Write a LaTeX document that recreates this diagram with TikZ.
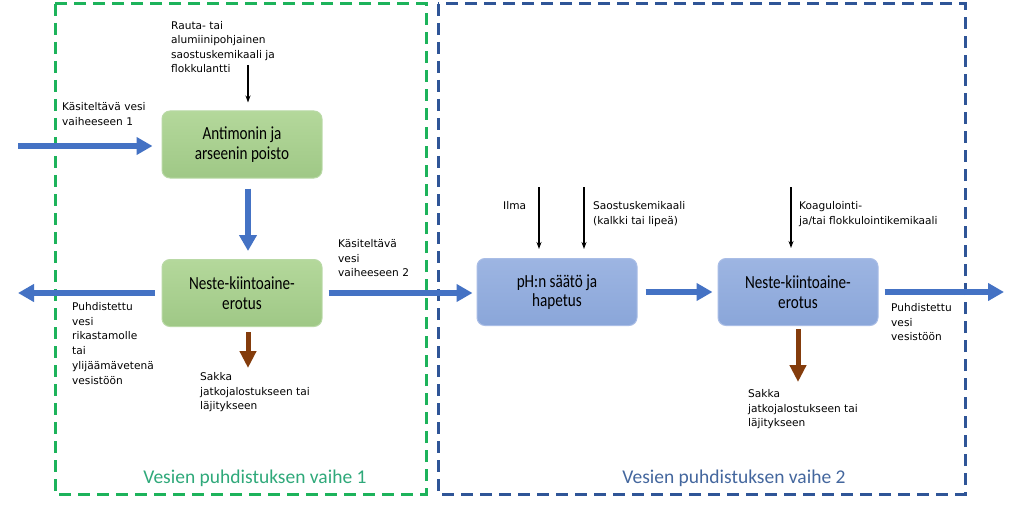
\documentclass[tikz,border=0pt]{standalone}
\usepackage{fontspec}
\setmainfont{DejaVu Sans}
\newfontfamily\boxfont[FakeStretch=0.82]{Carlito}
\newfontfamily\stagefont{Carlito}
\usetikzlibrary{arrows.meta,positioning}
\definecolor{StageGreen}  {HTML}{1DB35B}
\definecolor{StageBlue}   {HTML}{2F5597}
\definecolor{LabelGreen}  {HTML}{2FA97A}
\definecolor{LabelBlue}   {HTML}{44679E}
\definecolor{FlowBlue}    {HTML}{4472C4}
\definecolor{SludgeBrown} {HTML}{843C0C}
\definecolor{GreenTop}    {HTML}{B4D89B}
\definecolor{GreenBot}    {HTML}{9FC886}
\definecolor{GreenEdge}   {HTML}{B9D9A6}
\definecolor{BlueTop}     {HTML}{9DB5E2}
\definecolor{BlueBot}     {HTML}{8AA6D9}
\definecolor{BlueEdge}    {HTML}{A9BDE6}

\begin{document}
\begin{tikzpicture}[x=1pt,y=-1pt,
  proc/.style={rounded corners=8pt,line width=1pt,
    minimum width=160pt,minimum height=67pt,align=center,inner sep=2pt,
    font=\boxfont\fontsize{18.5}{19.5}\selectfont},
  greenproc/.style={proc,draw=GreenEdge,top color=GreenTop,bottom color=GreenBot},
  blueproc/.style={proc,draw=BlueEdge,top color=BlueTop,bottom color=BlueBot},
  note/.style={anchor=north west,align=left,inner sep=0pt,
    font=\fontsize{10.6}{14.8}\selectfont},
  flow/.style={-{Triangle[length=16pt,width=17pt]},FlowBlue,line width=5.5pt},
  sludge/.style={-{Triangle[length=17pt,width=16pt]},SludgeBrown,line width=5pt},
  feed/.style={-{Stealth[length=7pt,width=5pt]},black,line width=1.2pt},
  stage/.style={line width=3pt,dash pattern=on 12pt off 7pt},
  stagelbl/.style={font=\stagefont\fontsize{19.5}{22}\selectfont}]
  \fill[white] (0,0) rectangle (1024,505);
  \useasboundingbox (0,0) rectangle (1024,505);
  % Stages
  \draw[stage,StageGreen] (55,4) rectangle (426,494);
  \draw[stage,StageBlue] (438,4) rectangle (965,494);
  \node[stagelbl,text=LabelGreen](vaihe1) at (255,478)
    {Vesien puhdistuksen vaihe 1};
  \node[stagelbl,text=LabelBlue](vaihe2) at (734,478)
    {Vesien puhdistuksen vaihe 2};
  % Process boxes
  \node[greenproc](antimon) at (242,144.5) {Antimonin ja\\arseenin poisto};
  \node[greenproc](erotus1) at (242,293) {Neste-kiintoaine-\\erotus};
  \node[blueproc](saato) at (557,292) {pH:n säätö ja\\hapetus};
  \node[blueproc](erotus2) at (798,292) {Neste-kiintoaine-\\erotus};
  % Free ends
  \coordinate (inflow) at (18,146);
  \coordinate (outflow1) at (18,293);
  \coordinate (outflow2) at (1004,292);
  \coordinate (sakka1end) at (248,368);
  \coordinate (sakka2end) at (798,382);
  \coordinate (chem1) at (248,65);
  \coordinate (ilma) at (539,187);
  \coordinate (kalkki) at (584,187);
  \coordinate (koag) at (791,187);
  % Water flow
  \draw[flow,shorten >=9pt](inflow)--(inflow -| antimon.west);
  \draw[flow,shorten <=10pt,shorten >=8pt](antimon.south -| chem1)--(erotus1.north -| chem1);
  \draw[flow,shorten <=7pt](erotus1.west)--(outflow1);
  \draw[flow,shorten <=6pt,shorten >=4pt](erotus1.east)--(erotus1.east -| saato.west);
  \draw[flow,shorten <=8pt,shorten >=5pt](saato)--(erotus2);
  \draw[flow,shorten <=6pt](erotus2.east)--(outflow2);
  \draw[sludge,shorten <=5pt](erotus1.south -| sakka1end)--(sakka1end);
  \draw[sludge,shorten <=3pt](erotus2.south)--(sakka2end);
  % Chemicals
  \draw[feed,shorten >=8pt](chem1)--(chem1 |- antimon.north);
  \draw[feed,shorten >=9pt](ilma)--(ilma |- saato.north);
  \draw[feed,shorten >=9pt](kalkki)--(kalkki |- saato.north);
  \draw[feed,shorten >=10pt](koag)--(koag |- erotus2.north);
  % Annotation
  \node[note,font=\fontsize{10.6}{14.5}\selectfont](rauta) at (171,21)
    {Rauta- tai\\alumiinipohjainen\\saostuskemikaali ja\\flokkulantti};
  \node[note](kasit1) at (62,102) {Käsiteltävä vesi\\vaiheeseen 1};
  \node[note](puhd1) at (72,302)
    {Puhdistettu\\vesi\\rikastamolle\\tai\\ylijäämävetenä\\vesistöön};
  \node[note](sakka1) at (200,372) {Sakka\\jatkojalostukseen tai\\läjitykseen};
  \node[note](kasit2) at (338,239) {Käsiteltävä\\vesi\\vaiheeseen 2};
  \node[note](ilmalbl) at (503,201) {Ilma};
  \node[note](kalkkilbl) at (593,201) {Saostuskemikaali\\(kalkki tai lipeä)};
  \node[note](koaglbl) at (799,201) {Koagulointi-\\ja/tai flokkulointikemikaali};
  \node[note](puhd2) at (891,303) {Puhdistettu\\vesi\\vesistöön};
  \node[note](sakka2) at (748,389) {Sakka\\jatkojalostukseen tai\\läjitykseen};
\end{tikzpicture}
\end{document}
